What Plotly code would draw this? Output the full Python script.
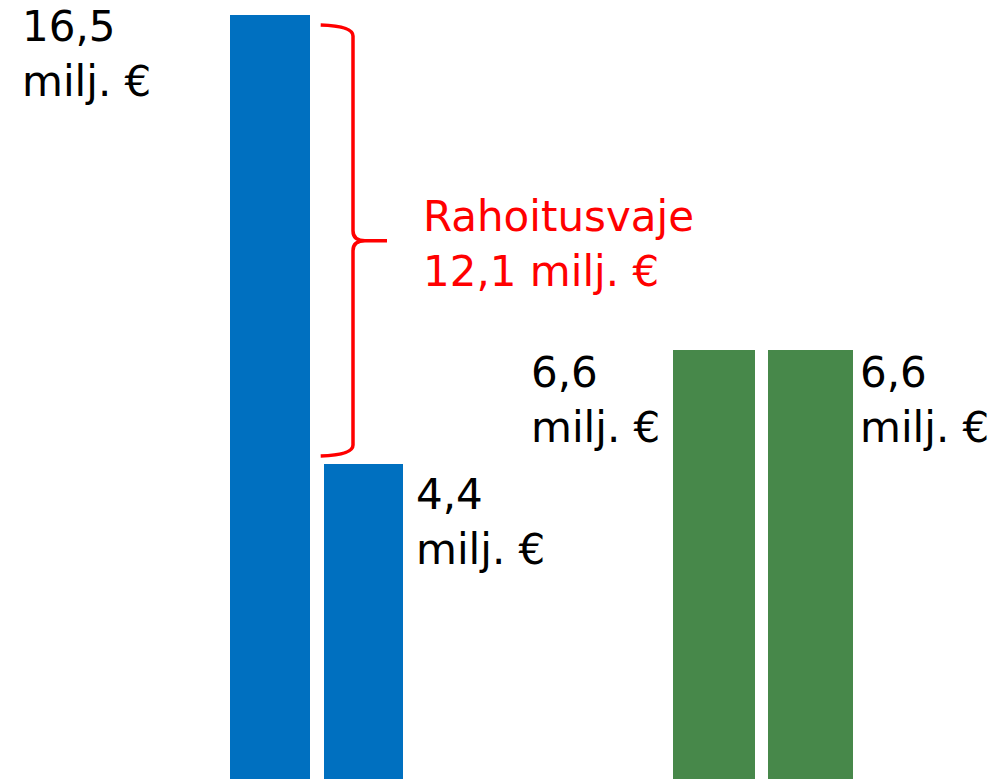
import plotly.graph_objects as go

# ---- data ----
categories = ["Tarve", "Rahoitus", "Kulut A", "Kulut B"]
label_values = [16.5, 4.4, 6.6, 6.6]          # values printed on the chart (milj. €)
bar_heights = [16.5, 6.8, 9.27, 9.27]         # bar heights as drawn in the picture
bar_colors = ["#0070C0", "#0070C0", "#47884A", "#47884A"]
gap_label = "Rahoitusvaje"
gap_value = 12.1
unit = "milj. €"


def fmt(v):
    return f"{v:.1f}".replace(".", ",")


# ---- layout (pixel based) ----
W, H = 997, 779
bar_left = [230, 324, 673, 768]
bar_width = [80, 79, 82, 85]
x_centers = [l + w / 2 for l, w in zip(bar_left, bar_width)]
ymax = bar_heights[0] * H / 764.0


def py(p):
    """pixel row (from top) -> y data value"""
    return (H - p) / H * ymax


fig = go.Figure()
fig.add_trace(go.Bar(
    x=x_centers, y=bar_heights, width=bar_width,
    marker=dict(color=bar_colors, line=dict(width=0)),
    hoverinfo="skip", showlegend=False,
))

FONT = "DejaVu Sans"
FS = 42
label_pos = [(20, 0), (414, 468), (529, 346), (858, 346)]
annotations = []
for (lx, ly), v in zip(label_pos, label_values):
    annotations.append(dict(
        x=lx, y=py(ly), xref="x", yref="y", xanchor="left", yanchor="top",
        text=f"{fmt(v)}<br>{unit}", showarrow=False, align="left",
        font=dict(family=FONT, size=FS, color="black"),
    ))
annotations.append(dict(
    x=421, y=py(190), xref="x", yref="y", xanchor="left", yanchor="top",
    text=f"{gap_label}<br>{fmt(gap_value)} {unit}", showarrow=False, align="left",
    font=dict(family=FONT, size=FS, color="#FF0000"),
))

# curly brace marking the gap
bx, tipx, x0 = 353, 387, 320.7
yt, ym, yb = 25, 240.7, 456
path = (
    f"M {x0},{py(yt)} Q {bx},{py(yt+1)} {bx},{py(yt+11)} "
    f"L {bx},{py(ym-10)} Q {bx},{py(ym)} {bx+12},{py(ym)} L {tipx},{py(ym)} "
    f"L {bx+12},{py(ym)} Q {bx},{py(ym)} {bx},{py(ym+10)} "
    f"L {bx},{py(yb-11)} Q {bx},{py(yb-1)} {x0},{py(yb)}"
)

fig.update_layout(
    width=W, height=H,
    margin=dict(l=0, r=0, t=0, b=0),
    paper_bgcolor="white", plot_bgcolor="white",
    xaxis=dict(range=[0, W], visible=False, fixedrange=True),
    yaxis=dict(range=[0, ymax], visible=False, fixedrange=True),
    annotations=annotations,
    shapes=[dict(type="path", path=path, xref="x", yref="y",
                 line=dict(color="#FF0000", width=3.5))],
    bargap=0,
)

fig.write_html("out.html", config={"displayModeBar": False},
               post_script="document.body.style.margin='0';document.body.style.overflow='hidden';")
